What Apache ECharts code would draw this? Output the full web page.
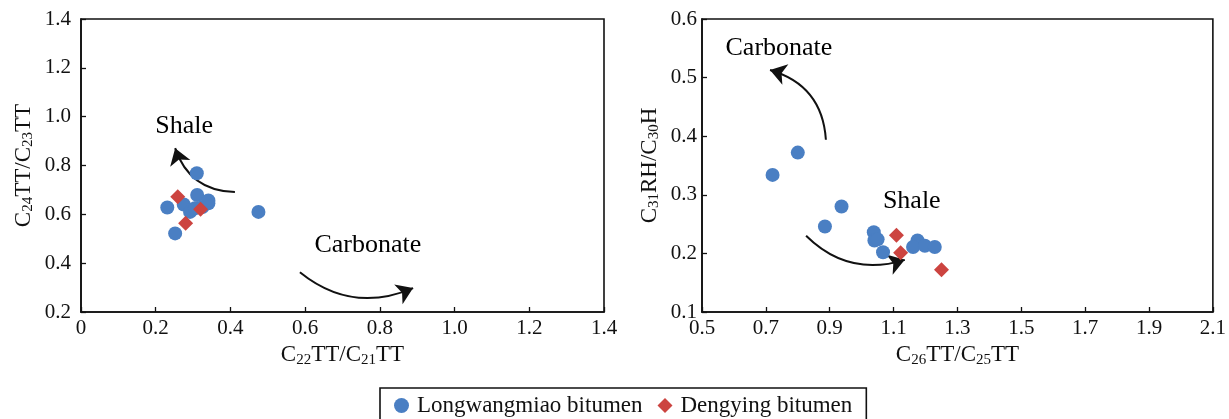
<!DOCTYPE html>
<html><head><meta charset="utf-8">
<script src="https://cdn.jsdelivr.net/npm/echarts@6/dist/echarts.min.js"></script>
<style>html,body{margin:0;padding:0;background:#fff}#c{width:1229px;height:419px}</style>
</head><body><div id="c"></div>
<script>
// Left panel: C22TT/C21TT vs C24TT/C23TT
const leftLongwangmiao = [[0.310,0.768],[0.231,0.628],[0.252,0.522],[0.311,0.679],[0.275,0.640],[0.292,0.610],[0.305,0.625],[0.325,0.630],[0.341,0.645],[0.341,0.657],[0.475,0.610]];
const leftDengying = [[0.259,0.672],[0.320,0.621],[0.280,0.563]];
// Right panel: C26TT/C25TT vs C31RH/C30H
const rightLongwangmiao = [[0.800,0.372],[0.721,0.334],[0.937,0.280],[0.885,0.246],[1.038,0.236],[1.040,0.222],[1.050,0.224],[1.067,0.202],[1.175,0.222],[1.161,0.211],[1.198,0.213],[1.229,0.211]];
const rightDengying = [[1.109,0.231],[1.122,0.201],[1.250,0.172]];
const leftXTicks = {min:0,max:1.4,interval:0.2};
const leftYTicks = {min:0.2,max:1.4,interval:0.2};
const rightXTicks = {min:0.5,max:2.1,interval:0.2};
const rightYTicks = {min:0.1,max:0.6,interval:0.1};
const seriesNames = ['Longwangmiao bitumen','Dengying bitumen'];
// annotations: [from, to]
const leftArrows = [[[0.412,0.691],[0.252,0.871]],[[0.586,0.363],[0.889,0.298]]];
const rightArrows = [[[0.888,0.394],[0.713,0.513]],[[0.826,0.230],[1.135,0.189]]];
const leftTexts = [['Shale',0.276,0.961],['Carbonate',0.768,0.474]];
const rightTexts = [['Carbonate',0.741,0.551],['Shale',1.157,0.289]];

const FONT = 'Liberation Serif';
const INK = '#111';
const BLUE = '#4a7fc3', RED = '#cc4440';
const chart = echarts.init(document.getElementById('c'), null, {renderer:'canvas'});
const sub = {fontFamily:FONT,fontSize:15,color:INK,padding:[9,0,0,0]};
const nm = {fontFamily:FONT,fontSize:23,color:INK};
function axisCommon(t, name, gap, margin){
  return Object.assign({}, t, {
    type:'value', name:name, nameLocation:'middle', nameGap:gap,
    nameTextStyle:{fontFamily:FONT,fontSize:23,color:INK,rich:{n:nm,s:sub}},
    axisLine:{show:true,onZero:false,lineStyle:{color:INK,width:1.6}},
    axisTick:{show:true,inside:true,length:5,lineStyle:{color:INK,width:1.3}},
    axisLabel:{fontFamily:FONT,fontSize:21,color:INK,margin:margin,
      formatter:v=>(Math.abs(v)<1e-9?'0':v.toFixed(1))},
    splitLine:{show:false}
  });
}
function arrows(list, xi){
  return {type:'lines',coordinateSystem:'cartesian2d',xAxisIndex:xi,yAxisIndex:xi,silent:true,
    symbol:['none','arrow'],symbolSize:16,
    lineStyle:{color:INK,width:2,opacity:1},
    data:list.map((p,i)=>({coords:p,lineStyle:{curveness:(xi===0? (i===0?0.35:-0.3) : (i===0?-0.35:-0.3))}}))};
}
function texts(list, xi){
  return {type:'scatter',xAxisIndex:xi,yAxisIndex:xi,symbolSize:0,silent:true,
    itemStyle:{opacity:1},
    label:{show:true,position:'inside',formatter:p=>p.data[2],fontFamily:FONT,fontSize:26,color:'#000',textBorderWidth:0,opacity:1},
    data:list.map(t=>[t[1],t[2],t[0]])};
}
chart.setOption({
  animation:false,
  grid:[
    {left:81,top:19,width:523,height:293,show:true,borderColor:INK,borderWidth:1.6,backgroundColor:'transparent'},
    {left:702,top:19,width:511,height:293,show:true,borderColor:INK,borderWidth:1.6,backgroundColor:'transparent'}
  ],
  xAxis:[
    Object.assign(axisCommon(leftXTicks,'{n|C}{s|22}{n|TT/C}{s|21}{n|TT}',30,6),{gridIndex:0}),
    Object.assign(axisCommon(rightXTicks,'{n|C}{s|26}{n|TT/C}{s|25}{n|TT}',30,6),{gridIndex:1})
  ],
  yAxis:[
    Object.assign(axisCommon(leftYTicks,'{n|C}{s|24}{n|TT/C}{s|23}{n|TT}',45,10),{gridIndex:0}),
    Object.assign(axisCommon(rightYTicks,'{n|C}{s|31}{n|RH/C}{s|30}{n|H}',40,5),{gridIndex:1})
  ],
  legend:{top:388,left:380,data:seriesNames,orient:'horizontal',
    borderColor:INK,borderWidth:1.6,padding:[6,14,14,14],itemGap:15,itemWidth:15,itemHeight:15,
    textStyle:{fontFamily:FONT,fontSize:23,color:INK,padding:[0,0,0,3]}},
  series:[
    {name:seriesNames[0],type:'scatter',xAxisIndex:0,yAxisIndex:0,symbol:'circle',symbolSize:14,itemStyle:{color:BLUE,opacity:1},data:leftLongwangmiao},
    {name:seriesNames[1],type:'scatter',xAxisIndex:0,yAxisIndex:0,symbol:'diamond',symbolSize:15,itemStyle:{color:RED,opacity:1},data:leftDengying},
    {name:seriesNames[0],type:'scatter',xAxisIndex:1,yAxisIndex:1,symbol:'circle',symbolSize:14,itemStyle:{color:BLUE,opacity:1},data:rightLongwangmiao},
    {name:seriesNames[1],type:'scatter',xAxisIndex:1,yAxisIndex:1,symbol:'diamond',symbolSize:15,itemStyle:{color:RED,opacity:1},data:rightDengying},
    arrows(leftArrows,0), arrows(rightArrows,1), texts(leftTexts,0), texts(rightTexts,1)
  ]
});
</script></body></html>
